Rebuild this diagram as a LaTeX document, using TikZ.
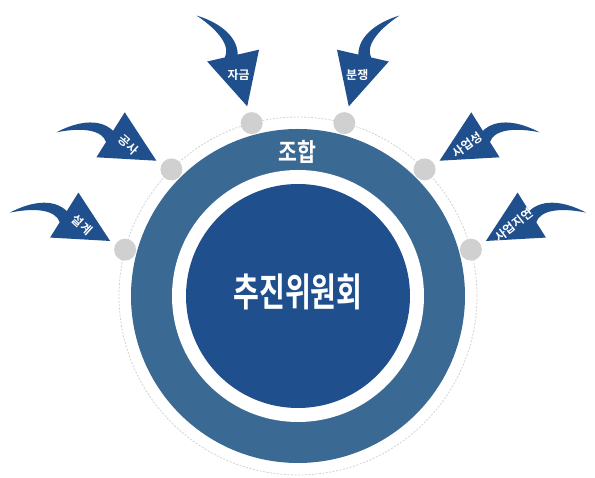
\documentclass[tikz,border=0pt]{standalone}
\usepackage{fontspec}
\newfontfamily\kr{Noto Sans CJK KR}[BoldFont={Noto Sans CJK KR Bold}]
\definecolor{ringblue}{HTML}{3A6A94}
\definecolor{coreblue}{HTML}{1F4F8C}
\definecolor{dotgray}{HTML}{D0D0D0}
\tikzset{
  graydot/.style={circle,fill=dotgray,minimum size=22pt,inner sep=0pt},
  lbl/.style={text=white,font=\kr\bfseries\fontsize{12}{12}\selectfont,inner sep=0pt},
  pics/swoosh/.style 2 args={code={
    \fill[coreblue] (-115,37.1) .. controls (-97,46.7) and (-73,52.7) .. (-58.3,38.6)
      -- (-46.7,57.1) -- (-15,8.7) -- (-75,12.1) -- (-65.4,27.4)
      .. controls (-69,38.7) and (-87,42.7) .. cycle;
    \node (t) at (-43,24.7) [lbl,rotate=#2] {#1};
  }}
}
\begin{document}
\begin{tikzpicture}[x=1pt,y=1pt]
\useasboundingbox (0,0) rectangle (595,478);
\coordinate (c) at (298,182);
% rings
\draw[gray!35,line width=0.8pt,dash pattern=on 2pt off 1.5pt] (c) circle (179pt);
\fill[ringblue] (c) circle (167pt);
\fill[white] (c) circle (126pt);
\node (core) at (c) [circle,fill=coreblue,minimum size=224pt,inner sep=0pt] {};
\node (title) at (298,186) [text=white,xscale=0.72,font=\kr\bfseries\fontsize{39}{39}\selectfont] {추진위원회};
\node (union) at (297,326) [text=white,xscale=0.82,font=\kr\bfseries\fontsize{25}{25}\selectfont] {조합};
% dots
\foreach \a/\n in {165/1,135/2,105/3,75/4,45/5,15/6}
  \node (d\n) at ([shift={(\a:179pt)}]c) [graydot] {};
% arrows
\pic (a1) at (d1) {swoosh={설계}{-42}};
\pic (a2) at (d2) {swoosh={공사}{-42}};
\pic[rotate=-45] (a3) at (d3) {swoosh={자금}{0}};
\pic[xscale=-1,rotate=-45] (a4) at (d4) {swoosh={분쟁}{0}};
\pic[xscale=-1] (a5) at (d5) {swoosh={사업성}{36}};
\pic[xscale=-1] (a6) at (d6) {swoosh={사업지연}{38}};
\end{tikzpicture}
\end{document}
